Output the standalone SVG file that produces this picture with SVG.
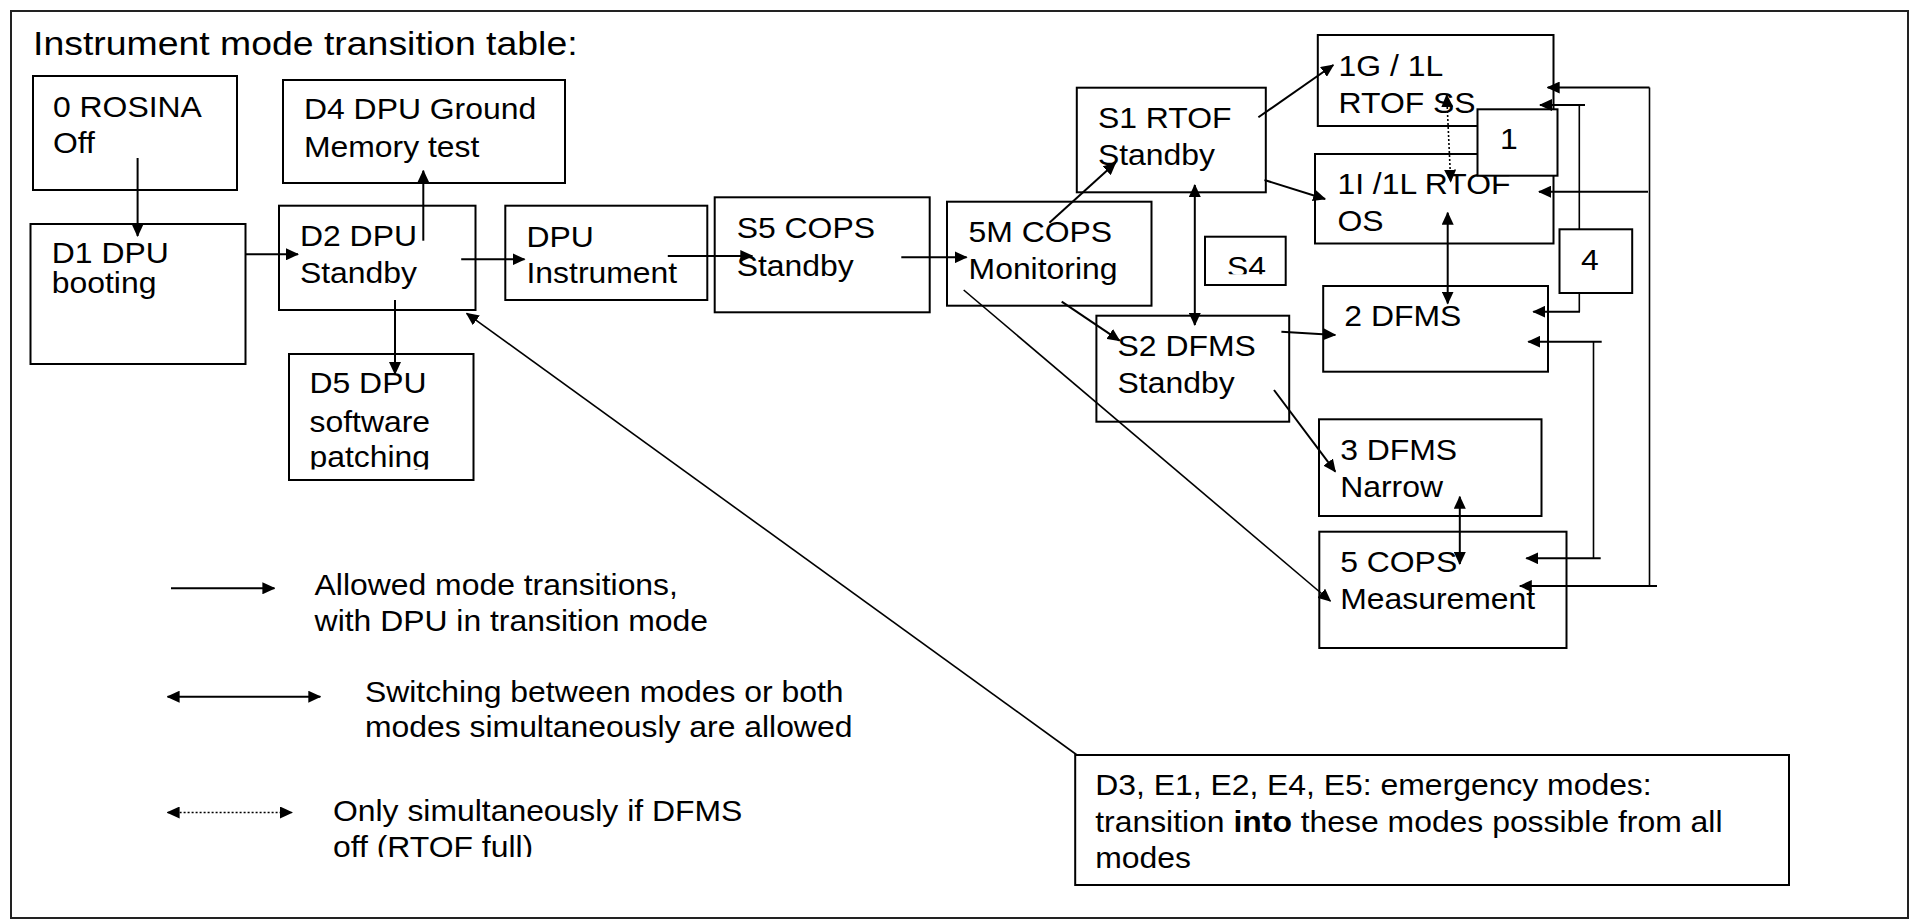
<svg xmlns="http://www.w3.org/2000/svg" width="1910" height="920" viewBox="0 0 1910 920">
<style>
.bx{fill:#fff;stroke:#000;stroke-width:2}
.t{font-family:"Liberation Sans",Arial,sans-serif;font-size:29px;fill:#000}
.ln{fill:none;stroke:#000;stroke-width:2}
.th{fill:none;stroke:#000;stroke-width:1.6}
.dt{fill:none;stroke:#000;stroke-width:1.6;stroke-dasharray:2 2}
</style>
<defs>
<marker id="ah" viewBox="0 0 13 12" refX="12" refY="6" markerWidth="13" markerHeight="12" markerUnits="userSpaceOnUse" orient="auto-start-reverse"><path d="M0,0 L13,6 L0,12 z" fill="#000"/></marker>
<clipPath id="cD5"><rect x="280" y="340" width="200" height="129.5"/></clipPath>
<clipPath id="cS4"><rect x="1200" y="230" width="90" height="44.3"/></clipPath>
<clipPath id="cLeg"><rect x="300" y="790" width="500" height="67"/></clipPath>
</defs>
<rect x="11" y="11" width="1897" height="907" fill="#fff" stroke="#222" stroke-width="2"/>
<text class="t" style="font-size:34px" transform="translate(33 0) scale(1.1 1)"><tspan x="0" y="55">Instrument mode transition table:</tspan></text>

<g id="n-rosina"><rect class="bx" x="33" y="76" width="204" height="114"/><text class="t" transform="translate(53 0) scale(1.1 1)"><tspan x="0" y="116.7">0 ROSINA</tspan><tspan x="0" y="153.3">Off</tspan></text></g>
<g id="n-d1"><rect class="bx" x="30.5" y="224" width="215" height="140"/><text class="t" transform="translate(51.8 0) scale(1.1 1)"><tspan x="0" y="263.3">D1 DPU</tspan><tspan x="0" y="293">booting</tspan></text></g>
<g id="n-d4"><rect class="bx" x="283" y="80" width="282" height="103"/><text class="t" transform="translate(304 0) scale(1.1 1)"><tspan x="0" y="119.3">D4 DPU Ground</tspan><tspan x="0" y="156.7">Memory test</tspan></text></g>
<g id="n-d2"><rect class="bx" x="279" y="205.7" width="196.5" height="104.3"/><text class="t" transform="translate(300 0) scale(1.1 1)"><tspan x="0" y="246">D2 DPU</tspan><tspan x="0" y="283">Standby</tspan></text></g>
<g id="n-d5"><rect class="bx" x="289" y="354" width="184.5" height="126"/><g clip-path="url(#cD5)"><text class="t" transform="translate(309.5 0) scale(1.1 1)"><tspan x="0" y="393.3">D5 DPU</tspan><tspan x="0" y="431.7">software</tspan><tspan x="0" y="467">patching</tspan></text></g></g>
<g id="n-dpui"><rect class="bx" x="505.3" y="205.7" width="202" height="94.3"/><text class="t" transform="translate(526.5 0) scale(1.1 1)"><tspan x="0" y="246.7">DPU</tspan><tspan x="0" y="283.3">Instrument</tspan></text></g>
<g id="n-s5"><rect class="bx" x="714.7" y="197.3" width="215" height="115"/><text class="t" transform="translate(736.7 0) scale(1.1 1)"><tspan x="0" y="238.3">S5 COPS</tspan><tspan x="0" y="276">Standby</tspan></text></g>
<g id="n-5m"><rect class="bx" x="947" y="201.7" width="204.5" height="104"/><text class="t" transform="translate(968.6 0) scale(1.1 1)"><tspan x="0" y="241.7">5M COPS</tspan><tspan x="0" y="279.3">Monitoring</tspan></text></g>
<g id="n-s1"><rect class="bx" x="1076.8" y="87.7" width="189" height="104.6"/><text class="t" transform="translate(1098 0) scale(1.1 1)"><tspan x="0" y="128.3">S1 RTOF</tspan><tspan x="0" y="165">Standby</tspan></text></g>
<g id="n-1g"><rect class="bx" x="1317.8" y="35" width="235.7" height="91"/><text class="t" transform="translate(1338.6 0) scale(1.1 1)"><tspan x="0" y="76">1G / 1L</tspan><tspan x="0" y="112.7">RTOF SS</tspan></text></g>
<g id="n-1i"><rect class="bx" x="1315" y="154" width="238.5" height="89.5"/><text class="t" transform="translate(1337.4 0) scale(1.1 1)"><tspan x="0" y="194.3">1I /1L RTOF</tspan><tspan x="0" y="231">OS</tspan></text></g>
<g id="n-box1"><rect class="bx" x="1477.5" y="109.3" width="80" height="66.4"/><text class="t" transform="translate(1500 0) scale(1.1 1)"><tspan x="0" y="149.3">1</tspan></text></g>
<g id="n-s4"><rect class="bx" x="1205" y="236.7" width="80.7" height="48.3"/><g clip-path="url(#cS4)"><text class="t" transform="translate(1227 0) scale(1.1 1)"><tspan x="0" y="277.5">S4</tspan></text></g></g>
<g id="n-box4"><rect class="bx" x="1559.5" y="229.3" width="72.7" height="63.7"/><text class="t" transform="translate(1581 0) scale(1.1 1)"><tspan x="0" y="270">4</tspan></text></g>
<g id="n-2dfms"><rect class="bx" x="1323.2" y="286" width="224.8" height="85.7"/><text class="t" transform="translate(1344.3 0) scale(1.1 1)"><tspan x="0" y="326">2 DFMS</tspan></text></g>
<g id="n-s2"><rect class="bx" x="1096.4" y="315.7" width="192.8" height="106"/><text class="t" transform="translate(1117.6 0) scale(1.1 1)"><tspan x="0" y="356">S2 DFMS</tspan><tspan x="0" y="392.7">Standby</tspan></text></g>
<g id="n-3dfms"><rect class="bx" x="1319" y="419.3" width="222.5" height="96.7"/><text class="t" transform="translate(1340.2 0) scale(1.1 1)"><tspan x="0" y="460">3 DFMS</tspan><tspan x="0" y="496.7">Narrow</tspan></text></g>
<g id="n-5cops"><rect class="bx" x="1319.3" y="531.7" width="247.2" height="116.3"/><text class="t" transform="translate(1340.2 0) scale(1.1 1)"><tspan x="0" y="571.7">5 COPS</tspan><tspan x="0" y="609">Measurement</tspan></text></g>
<g id="n-d3"><rect class="bx" x="1075.2" y="755" width="713.8" height="130"/><text class="t" transform="translate(1095.2 0) scale(1.1 1)"><tspan x="0" y="795">D3, E1, E2, E4, E5: emergency modes:</tspan><tspan x="0" y="831.7">transition <tspan font-weight="bold">into</tspan> these modes possible from all</tspan><tspan x="0" y="868.3">modes</tspan></text></g>

<g id="legend">
<line class="ln" x1="171" y1="588.3" x2="274.4" y2="588.3" marker-end="url(#ah)"/>
<text class="t" transform="translate(314.6 0) scale(1.1 1)"><tspan x="0" y="595">Allowed mode transitions,</tspan><tspan x="0" y="630.7">with DPU in transition mode</tspan></text>
<line class="ln" x1="167.6" y1="696.7" x2="320.3" y2="696.7" marker-start="url(#ah)" marker-end="url(#ah)"/>
<text class="t" transform="translate(365 0) scale(1.1 1)"><tspan x="0" y="701.7">Switching between modes or both</tspan><tspan x="0" y="737.3">modes simultaneously are allowed</tspan></text>
<line class="dt" x1="167.6" y1="812.5" x2="292" y2="812.5" marker-start="url(#ah)" marker-end="url(#ah)"/>
<g clip-path="url(#cLeg)"><text class="t" transform="translate(333 0) scale(1.1 1)"><tspan x="0" y="821">Only simultaneously if DFMS</tspan><tspan x="0" y="857">off (RTOF full)</tspan></text></g>
</g>

<g id="connectors">
<line class="ln" x1="137.6" y1="158" x2="137.6" y2="236" marker-end="url(#ah)"/>
<line class="ln" x1="245.7" y1="254.3" x2="298" y2="254.3" marker-end="url(#ah)"/>
<line class="ln" x1="423.3" y1="240.7" x2="423.3" y2="170.7" marker-end="url(#ah)"/>
<line class="ln" x1="395" y1="300" x2="395" y2="374" marker-end="url(#ah)"/>
<line class="ln" x1="461.2" y1="259.3" x2="524.5" y2="259.3" marker-end="url(#ah)"/>
<line class="ln" x1="667.8" y1="256" x2="752.3" y2="256" marker-end="url(#ah)"/>
<line class="ln" x1="901.3" y1="257.3" x2="966.6" y2="257.3" marker-end="url(#ah)"/>
<line class="ln" x1="1049.4" y1="222.7" x2="1115.6" y2="162.7" marker-end="url(#ah)"/>
<line class="ln" x1="1194.8" y1="185" x2="1194.8" y2="325" marker-start="url(#ah)" marker-end="url(#ah)"/>
<line class="ln" x1="1061.7" y1="301.7" x2="1119.6" y2="340.7" marker-end="url(#ah)"/>
<line class="ln" x1="1258.4" y1="117.3" x2="1333.3" y2="65" marker-end="url(#ah)"/>
<line class="ln" x1="1264.5" y1="180" x2="1325.1" y2="199" marker-end="url(#ah)"/>
<line class="dt" x1="1446.7" y1="95" x2="1450.7" y2="181.7" marker-start="url(#ah)" marker-end="url(#ah)"/>
<line class="ln" x1="1447.7" y1="212.7" x2="1447.7" y2="303.5" marker-start="url(#ah)" marker-end="url(#ah)"/>
<line class="ln" x1="1281.4" y1="331.7" x2="1335.3" y2="335" marker-end="url(#ah)"/>
<line class="ln" x1="1274" y1="390" x2="1335.3" y2="471.7" marker-end="url(#ah)"/>
<line class="ln" x1="1459.8" y1="496.7" x2="1459.8" y2="564" marker-start="url(#ah)" marker-end="url(#ah)"/>
<line class="th" x1="963.7" y1="290" x2="1330.4" y2="601" marker-end="url(#ah)"/>
<line class="th" x1="1077" y1="755" x2="466.6" y2="313.3" marker-end="url(#ah)"/>
<polyline class="th" points="1649.5,586 1649.5,87.5"/>
<line class="ln" x1="1649.5" y1="87.5" x2="1547.7" y2="87.5" marker-end="url(#ah)"/>
<line class="ln" x1="1648" y1="191.7" x2="1539" y2="191.7" marker-end="url(#ah)"/>
<line class="ln" x1="1657" y1="586" x2="1519.8" y2="586" marker-end="url(#ah)"/>
<line class="ln" x1="1585" y1="105" x2="1540" y2="105" marker-end="url(#ah)"/>
<line class="th" x1="1579.3" y1="105" x2="1579.3" y2="229.3"/>
<polyline class="th" points="1579.3,293 1579.3,311.7"/>
<line class="ln" x1="1580" y1="311.7" x2="1533.3" y2="311.7" marker-end="url(#ah)"/>
<line class="ln" x1="1601.7" y1="341.7" x2="1528.3" y2="341.7" marker-end="url(#ah)"/>
<line class="th" x1="1593.5" y1="341.7" x2="1593.5" y2="558.3"/>
<line class="ln" x1="1600.7" y1="558.3" x2="1526.3" y2="558.3" marker-end="url(#ah)"/>
</g>
</svg>
